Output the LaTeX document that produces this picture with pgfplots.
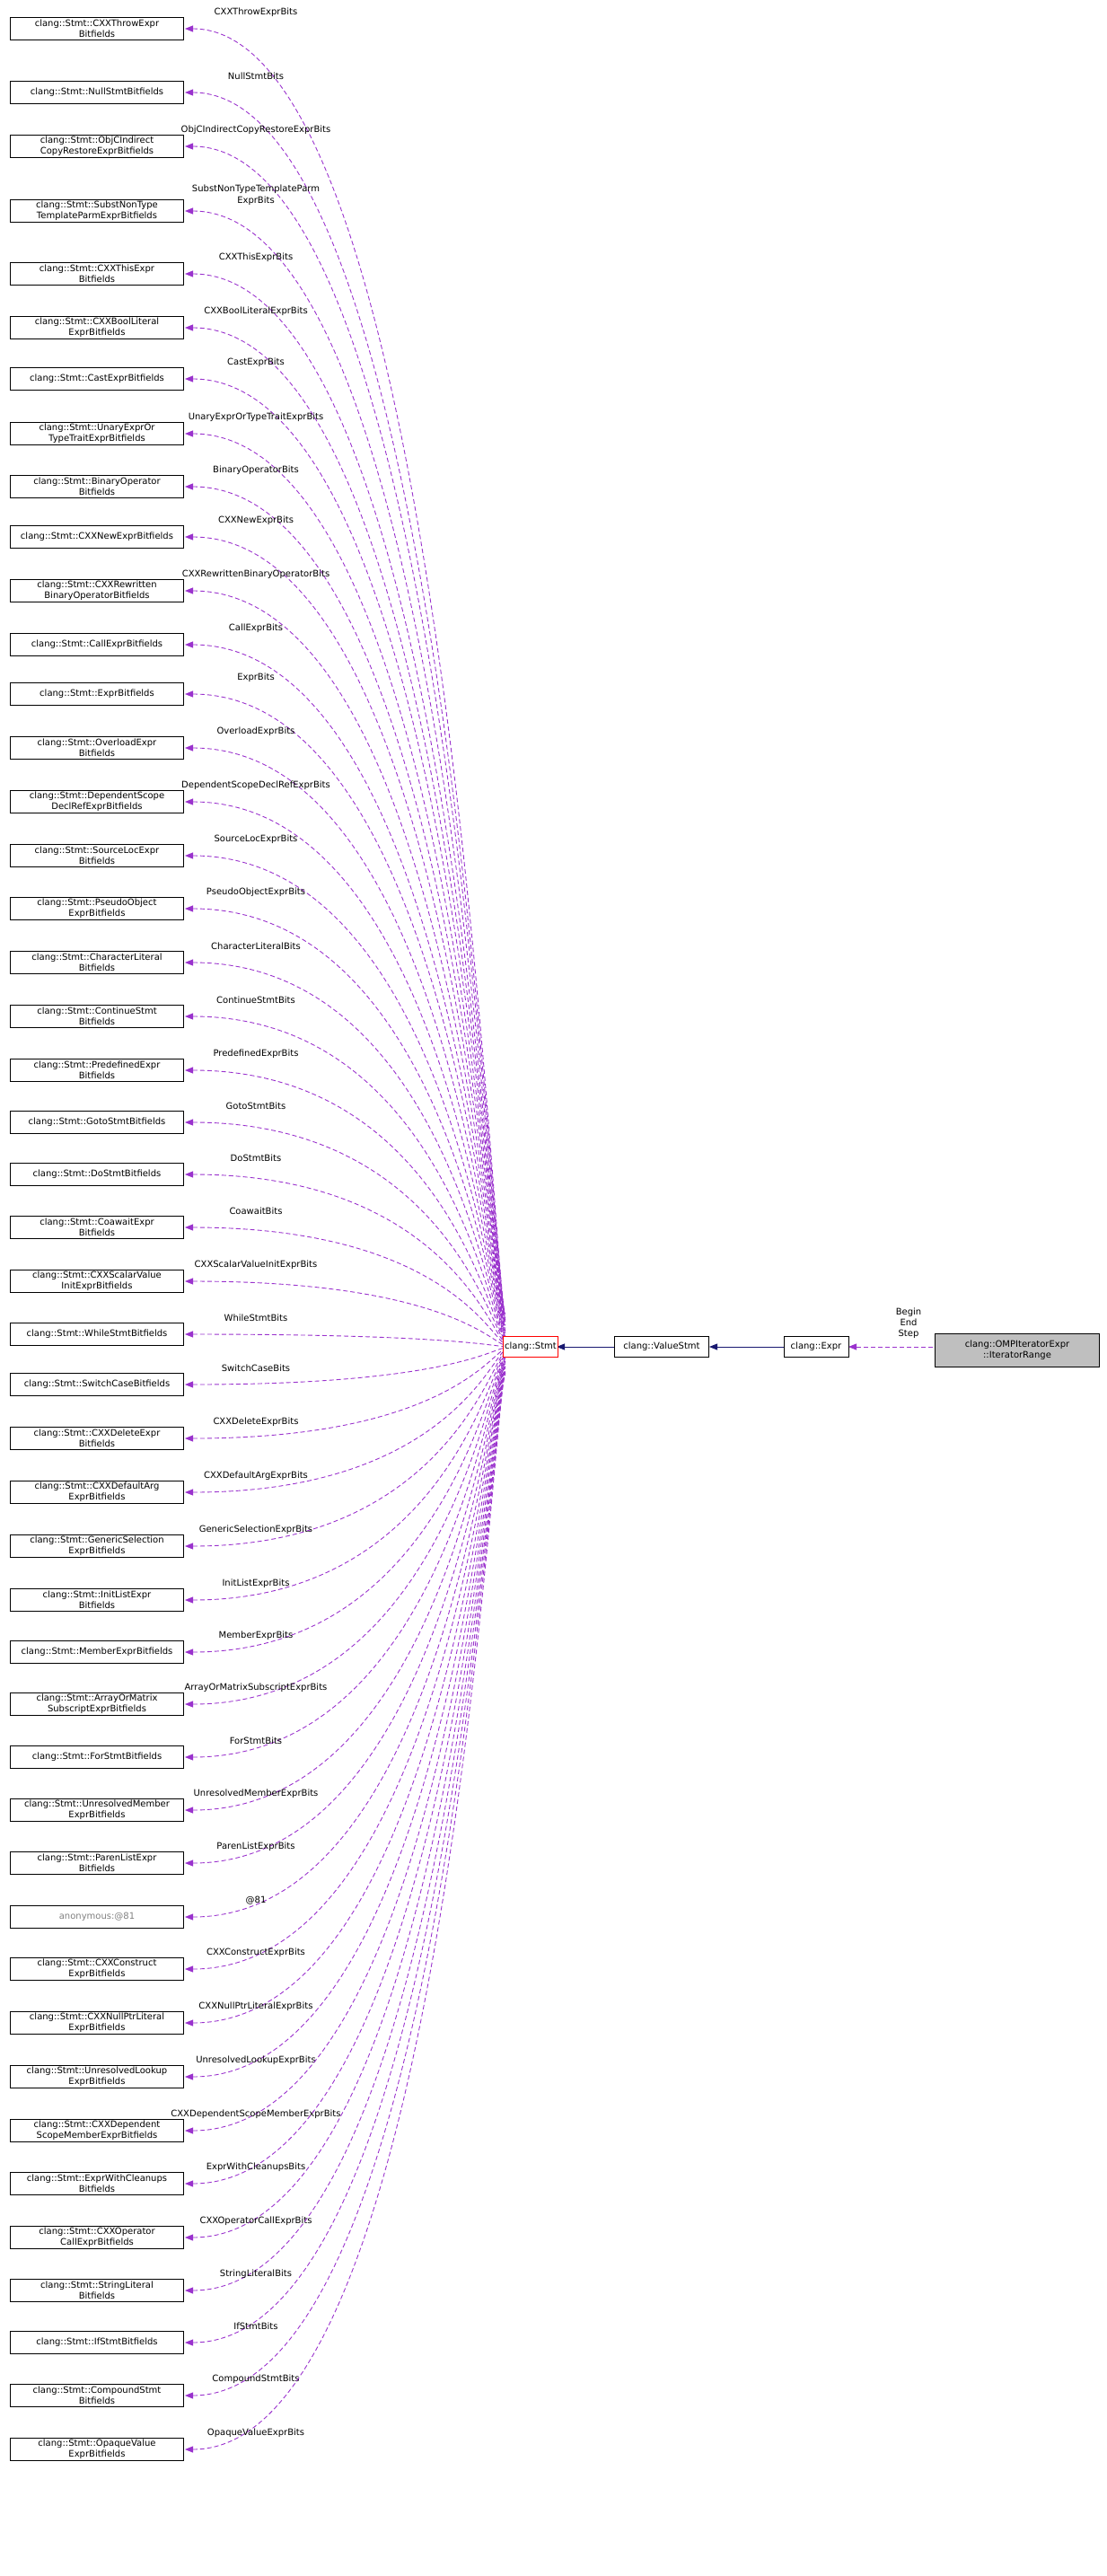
\documentclass[border=0pt]{standalone}
\usepackage{pgfplots}
\pgfplotsset{compat=1.18}
\usepackage{fontspec}
\setmainfont{DejaVu Sans}
\usetikzlibrary{arrows.meta}
\definecolor{ed}{HTML}{9A32CD}
\definecolor{nv}{HTML}{191970}
\newcommand\eb[4]{%
 \draw[ed,dash pattern=on 5pt off 3pt,line width=0.9pt,{Triangle[width=7pt,length=9pt]}-] (axis cs:206,#1) .. controls (axis cs:500,#1) and (axis cs:550,{1500+(#1-1500)*0.025}) .. (axis cs:563,{1500+(#1-1500)*0.025});
 \node[draw,line width=0.9pt,fill=white,minimum width=193pt,minimum height=25pt,align=center,inner sep=1.5pt] at (axis cs:108,#1) {#2};
 \node[font=\fontsize{10}{11}\selectfont] at (axis cs:285,{#1-18}) {#3};}
\begin{document}
\begin{tikzpicture}
\begin{axis}[width=1233pt,height=2869pt,scale only axis,hide axis,xmin=0,xmax=1233,ymin=0,ymax=2869,y dir=reverse,clip=false,
 every node/.append style={font=\fontsize{10}{12}\selectfont}]
\addplot[draw=none] coordinates {(0,0) (1233,2869)};
\eb{32}{clang::Stmt::CXXThrowExpr\\Bitfields}{CXXThrowExprBits}{}
\eb{103}{clang::Stmt::NullStmtBitfields}{NullStmtBits}{}
\eb{163}{clang::Stmt::ObjCIndirect\\CopyRestoreExprBitfields}{ObjCIndirectCopyRestoreExprBits}{}
\eb{235}{clang::Stmt::SubstNonType\\TemplateParmExprBitfields}{\shortstack{SubstNonTypeTemplateParm\\ExprBits}}{}
\eb{305}{clang::Stmt::CXXThisExpr\\Bitfields}{CXXThisExprBits}{}
\eb{365}{clang::Stmt::CXXBoolLiteral\\ExprBitfields}{CXXBoolLiteralExprBits}{}
\eb{422}{clang::Stmt::CastExprBitfields}{CastExprBits}{}
\eb{483}{clang::Stmt::UnaryExprOr\\TypeTraitExprBitfields}{UnaryExprOrTypeTraitExprBits}{}
\eb{542}{clang::Stmt::BinaryOperator\\Bitfields}{BinaryOperatorBits}{}
\eb{598}{clang::Stmt::CXXNewExprBitfields}{CXXNewExprBits}{}
\eb{658}{clang::Stmt::CXXRewritten\\BinaryOperatorBitfields}{CXXRewrittenBinaryOperatorBits}{}
\eb{718}{clang::Stmt::CallExprBitfields}{CallExprBits}{}
\eb{773}{clang::Stmt::ExprBitfields}{ExprBits}{}
\eb{833}{clang::Stmt::OverloadExpr\\Bitfields}{OverloadExprBits}{}
\eb{893}{clang::Stmt::DependentScope\\DeclRefExprBitfields}{DependentScopeDeclRefExprBits}{}
\eb{953}{clang::Stmt::SourceLocExpr\\Bitfields}{SourceLocExprBits}{}
\eb{1012}{clang::Stmt::PseudoObject\\ExprBitfields}{PseudoObjectExprBits}{}
\eb{1072}{clang::Stmt::CharacterLiteral\\Bitfields}{CharacterLiteralBits}{}
\eb{1132}{clang::Stmt::ContinueStmt\\Bitfields}{ContinueStmtBits}{}
\eb{1192}{clang::Stmt::PredefinedExpr\\Bitfields}{PredefinedExprBits}{}
\eb{1250}{clang::Stmt::GotoStmtBitfields}{GotoStmtBits}{}
\eb{1308}{clang::Stmt::DoStmtBitfields}{DoStmtBits}{}
\eb{1367}{clang::Stmt::CoawaitExpr\\Bitfields}{CoawaitBits}{}
\eb{1427}{clang::Stmt::CXXScalarValue\\InitExprBitfields}{CXXScalarValueInitExprBits}{}
\eb{1486}{clang::Stmt::WhileStmtBitfields}{WhileStmtBits}{}
\eb{1542}{clang::Stmt::SwitchCaseBitfields}{SwitchCaseBits}{}
\eb{1602}{clang::Stmt::CXXDeleteExpr\\Bitfields}{CXXDeleteExprBits}{}
\eb{1662}{clang::Stmt::CXXDefaultArg\\ExprBitfields}{CXXDefaultArgExprBits}{}
\eb{1722}{clang::Stmt::GenericSelection\\ExprBitfields}{GenericSelectionExprBits}{}
\eb{1782}{clang::Stmt::InitListExpr\\Bitfields}{InitListExprBits}{}
\eb{1840}{clang::Stmt::MemberExprBitfields}{MemberExprBits}{}
\eb{1898}{clang::Stmt::ArrayOrMatrix\\SubscriptExprBitfields}{ArrayOrMatrixSubscriptExprBits}{}
\eb{1957}{clang::Stmt::ForStmtBitfields}{ForStmtBits}{}
\eb{2016}{clang::Stmt::UnresolvedMember\\ExprBitfields}{UnresolvedMemberExprBits}{}
\eb{2075}{clang::Stmt::ParenListExpr\\Bitfields}{ParenListExprBits}{}
\eb{2135}{\textcolor{gray}{anonymous:@81}}{@81}{}
\eb{2193}{clang::Stmt::CXXConstruct\\ExprBitfields}{CXXConstructExprBits}{}
\eb{2253}{clang::Stmt::CXXNullPtrLiteral\\ExprBitfields}{CXXNullPtrLiteralExprBits}{}
\eb{2313}{clang::Stmt::UnresolvedLookup\\ExprBitfields}{UnresolvedLookupExprBits}{}
\eb{2373}{clang::Stmt::CXXDependent\\ScopeMemberExprBitfields}{CXXDependentScopeMemberExprBits}{}
\eb{2432}{clang::Stmt::ExprWithCleanups\\Bitfields}{ExprWithCleanupsBits}{}
\eb{2492}{clang::Stmt::CXXOperator\\CallExprBitfields}{CXXOperatorCallExprBits}{}
\eb{2551}{clang::Stmt::StringLiteral\\Bitfields}{StringLiteralBits}{}
\eb{2609}{clang::Stmt::IfStmtBitfields}{IfStmtBits}{}
\eb{2668}{clang::Stmt::CompoundStmt\\Bitfields}{CompoundStmtBits}{}
\eb{2728}{clang::Stmt::OpaqueValue\\ExprBitfields}{OpaqueValueExprBits}{}
% right chain
\draw[nv,line width=0.9pt,{Triangle[width=7pt,length=9pt]}-] (axis cs:620,1500) -- (axis cs:685,1500);
\draw[nv,line width=0.9pt,{Triangle[width=7pt,length=9pt]}-] (axis cs:790,1500) -- (axis cs:873,1500);
\draw[ed,dash pattern=on 5pt off 3pt,line width=0.9pt,{Triangle[width=7pt,length=9pt]}-] (axis cs:945,1500) -- (axis cs:1042,1500);
\node[draw=red,line width=0.9pt,fill=white,minimum width=57pt,minimum height=23pt,inner sep=1.5pt] at (axis cs:591,1500) {clang::Stmt};
\node[draw,line width=0.9pt,fill=white,minimum width=105pt,minimum height=23pt,inner sep=1.5pt] at (axis cs:737,1500) {clang::ValueStmt};
\node[draw,line width=0.9pt,fill=white,minimum width=72pt,minimum height=23pt,inner sep=1.5pt] at (axis cs:909,1500) {clang::Expr};
\node[draw,line width=0.9pt,fill=gray!50,minimum width=183pt,minimum height=37pt,align=center,inner sep=1.5pt] at (axis cs:1133,1504) {clang::OMPIteratorExpr\\::IteratorRange};
\node[align=center,font=\fontsize{10}{12}\selectfont] at (axis cs:1012,1474) {Begin\\End\\Step};
\end{axis}
\end{tikzpicture}
\end{document}
